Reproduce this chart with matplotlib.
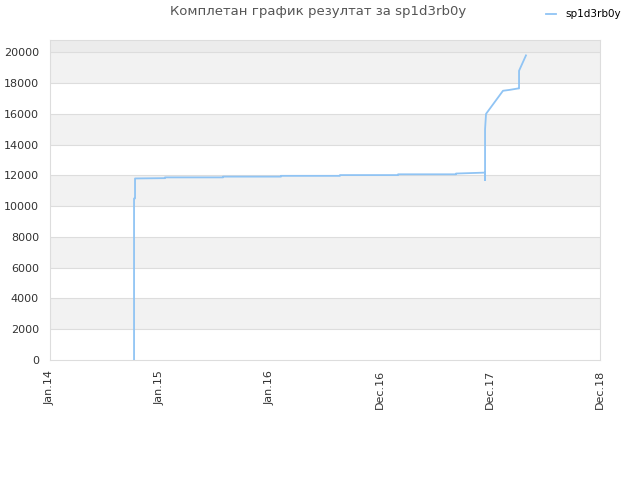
import matplotlib
matplotlib.use("Agg")
import matplotlib.pyplot as plt

# x positions in "tick units" (0 = Jan.14, 5 = Dec.18)
tick_labels = ["Jan.14", "Jan.15", "Jan.16", "Dec.16", "Dec.17", "Dec.18"]
x_vals = [0.764, 0.764, 0.773, 0.773, 1.045, 1.045, 1.573, 1.573, 2.100, 2.100,
          2.636, 2.636, 3.164, 3.164, 3.691, 3.691, 3.955, 3.955, 3.955, 3.964,
          4.118, 4.180, 4.255, 4.264, 4.264, 4.327]
y_vals = [0, 10500, 10500, 11800, 11820, 11870, 11870, 11920, 11920, 11970,
          11970, 12020, 12020, 12070, 12070, 12120, 12180, 11700, 15000, 16000,
          17500, 17560, 17650, 17650, 18800, 19800]
series_name = "sp1d3rb0y"
title = "Комплетан график резултат за sp1d3rb0y"

fig = plt.figure(figsize=(6.4, 4.8), dpi=100)
ax = fig.add_axes([50 / 640, 120 / 480, 550 / 640, 320 / 480])

ymax = 20800
ax.set_xlim(0, 5)
ax.set_ylim(0, ymax)

# alternating bands
yt = list(range(0, 20001, 2000))
for i in range(len(yt) - 1):
    if i % 2 == 1:
        ax.axhspan(yt[i], yt[i + 1], color="#f2f2f2", zorder=0, lw=0)
ax.axhspan(20000, ymax, color="#ececec", zorder=0, lw=0)
for v in yt[1:]:
    ax.axhline(v, color="#dddddd", lw=0.8, zorder=1)

ax.plot(x_vals, y_vals, color="#90c4f4", lw=1.3, label=series_name, zorder=3)

ax.set_yticks(yt)
ax.set_xticks(range(len(tick_labels)))
ax.set_xticklabels(tick_labels, rotation=90)
ax.tick_params(axis="x", length=0, labelsize=8, colors="#333333", pad=7)
ax.tick_params(axis="y", length=0, labelsize=8, colors="#333333", pad=8)
for s in ax.spines.values():
    s.set_color("#dddddd")
    s.set_linewidth(0.8)

fig.text(318 / 640, 1 - 12 / 480, title, ha="center", va="center",
         fontsize=9.5, color="#555555")
fig.legend(loc="upper right", bbox_to_anchor=(0.985, 1.0), frameon=False,
           fontsize=7.5, handlelength=1.0, handletextpad=0.9)

fig.savefig("out.png", dpi=100)
